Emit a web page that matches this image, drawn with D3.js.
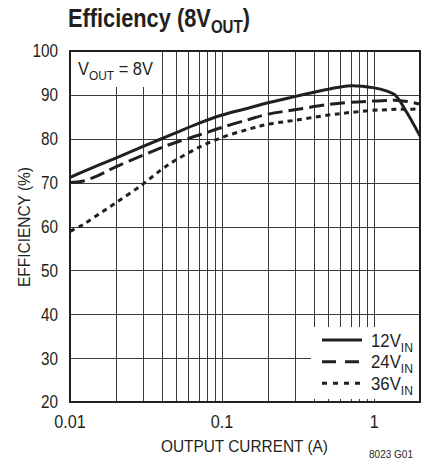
<!DOCTYPE html>
<html><head><meta charset="utf-8">
<script src="https://cdn.jsdelivr.net/npm/d3@7/dist/d3.min.js"></script>
<style>
html,body{margin:0;padding:0;background:#fff;}
svg{display:block;}
text{font-family:"Liberation Sans Narrow","Liberation Sans",Arial,sans-serif;fill:#231f20;white-space:pre;}
</style></head>
<body>
<script>
// ---- data ----
const current = [0.01,0.012,0.015,0.02,0.03,0.04,0.05,0.07,0.1,0.15,0.2,0.3,0.5,0.7,1,1.2,1.37,1.65,2];
const eff12V = [71.2,72.4,73.8,75.6,78.2,80.0,81.4,83.5,85.4,87.0,88.2,89.6,91.3,92.1,91.6,90.9,90.0,85.8,80.6];
const eff24V = [70.0,70.3,71.5,73.6,76.2,78.0,79.2,80.8,82.6,84.4,85.6,86.6,87.8,88.3,88.6,88.7,88.8,88.5,87.9];
const eff36V = [58.9,60.3,62.5,65.4,69.6,73.0,75.2,78.0,80.3,82.2,83.3,84.2,85.4,86.0,86.5,86.6,86.7,86.7,86.8];
const seriesNames = ["12V", "24V", "36V"];
const xTickLabels = [0.01, 0.1, 1];
const yTickLabels = [20,30,40,50,60,70,80,90,100];
const xGridValues = [0.02,0.03,0.04,0.05,0.06,0.07,0.08,0.09,0.1,0.2,0.3,0.4,0.5,0.6,0.7,0.8,0.9,1,2];

const W = 421, H = 472;
const L = 70, R = 420, T = 51, B = 402;
const ink = "#231f20";

const svg = d3.select("body").append("svg").attr("width", W).attr("height", H);
const x = d3.scaleLog().domain([0.01, 2]).range([L, R]);
const y = d3.scaleLinear().domain([20, 100]).range([B, T]);

// rich text made of separate text pieces (for subscripts), fitted to a width
function rich(x0, y0, parts, width, attrs) {
  const g = svg.append("g");
  let cx = x0;
  parts.forEach(p => {
    const t = g.append("text").attr("x", cx).attr("y", y0 + (p.dy || 0))
      .attr("font-size", p.size).text(p.t);
    if (attrs) Object.entries(attrs).forEach(([k, v]) => t.attr(k, v));
    cx += t.node().getComputedTextLength();
  });
  const s = width / (cx - x0);
  g.attr("transform", `translate(${x0},0) scale(${s},1) translate(${-x0},0)`);
}
function condense(sel, f) {
  sel.each(function () {
    const w = this.getComputedTextLength();
    d3.select(this).attr("textLength", w * f).attr("lengthAdjust", "spacingAndGlyphs");
  });
}

// title
rich(68, 27, [{t: "Efficiency (8V", size: 26}, {t: "OUT", size: 18, dy: 6}, {t: ")", size: 26}],
  182, {"font-weight": "bold"});

// grid
const grid = svg.append("g").attr("stroke", "#3a3a3a").attr("stroke-width", 1);
grid.selectAll("line.v").data(xGridValues).join("line")
  .attr("x1", d => Math.round(x(d)) + 0.5).attr("x2", d => Math.round(x(d)) + 0.5)
  .attr("y1", T).attr("y2", B);
grid.selectAll("line.h").data(yTickLabels.filter(v => v > 20 && v < 100)).join("line")
  .attr("x1", L).attr("x2", R)
  .attr("y1", d => Math.round(y(d)) + 0.5).attr("y2", d => Math.round(y(d)) + 0.5);

// boxes hiding grid
svg.append("rect").attr("x", L + 1).attr("y", T + 1).attr("width", 86).attr("height", 35).attr("fill", "#fff");
svg.append("rect").attr("x", 311).attr("y", 327).attr("width", R - 311).attr("height", 72).attr("fill", "#fff");

// V_OUT label
rich(78, 75, [{t: "V", size: 18}, {t: "OUT", size: 13, dy: 5}, {t: "\u00a0=\u00a08V", size: 18}], 75);

// curves
svg.append("clipPath").attr("id", "clip").append("rect")
  .attr("x", L).attr("y", T).attr("width", R - L).attr("height", B - T);
const line = d3.line().x(d => x(d[0])).y(d => y(d[1])).curve(d3.curveCatmullRom.alpha(0.5));
const styles = [null, "15,6", "5,4.5"];
const allSeries = [eff12V, eff24V, eff36V];
const cg = svg.append("g").attr("clip-path", "url(#clip)");
allSeries.forEach((s, i) => {
  cg.append("path").datum(current.map((c, j) => [c, s[j]]))
    .attr("d", line).attr("fill", "none").attr("stroke", ink)
    .attr("stroke-width", 3).attr("stroke-dasharray", styles[i]);
});

// border
svg.append("rect").attr("x", L).attr("y", T).attr("width", R - L).attr("height", B - T)
  .attr("fill", "none").attr("stroke", ink).attr("stroke-width", 2);

// tick labels
const yt = svg.selectAll("text.yt").data(yTickLabels).join("text")
  .attr("x", 58).attr("y", d => y(d)).attr("dy", "0.36em")
  .attr("text-anchor", "end").attr("font-size", 18).text(d => d);
condense(yt, 0.85);
const xt = svg.selectAll("text.xt").data(xTickLabels).join("text")
  .attr("x", d => x(d)).attr("y", 428)
  .attr("text-anchor", "middle").attr("font-size", 18).text(d => d);
condense(xt, 0.9);

// axis titles
svg.append("text").attr("x", 161).attr("y", 452).attr("font-size", 16)
  .attr("textLength", 167).attr("lengthAdjust", "spacingAndGlyphs")
  .text("OUTPUT CURRENT (A)");
svg.append("text").attr("transform", "translate(30,287) rotate(-90)")
  .attr("font-size", 16).attr("textLength", 120).attr("lengthAdjust", "spacingAndGlyphs")
  .text("EFFICIENCY (%)");

// legend
const legY = [340, 361.7, 383.3];
const legDash = [null, "14,9", "5,6"];
seriesNames.forEach((n, i) => {
  svg.append("line").attr("x1", 322).attr("x2", 362).attr("y1", legY[i]).attr("y2", legY[i])
    .attr("stroke", ink).attr("stroke-width", 3).attr("stroke-dasharray", legDash[i]);
  rich(371, legY[i] + 6.7, [{t: n, size: 18}, {t: "IN", size: 13, dy: 5}], 42);
});

// figure code
svg.append("text").attr("x", 413).attr("y", 458).attr("text-anchor", "end")
  .attr("font-size", 10).text("8023 G01");
</script>
</body></html>
